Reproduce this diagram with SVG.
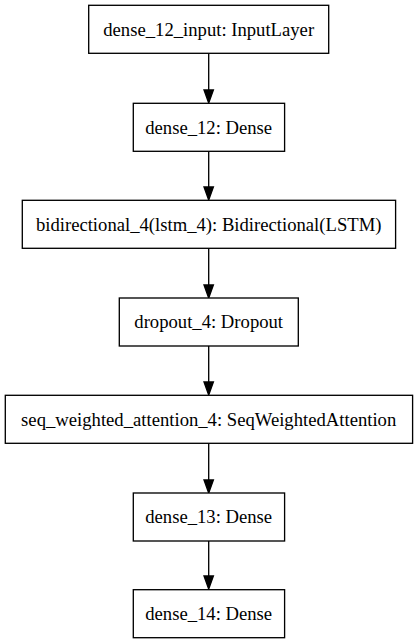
<svg xmlns="http://www.w3.org/2000/svg" width="417" height="644" viewBox="0 0 417 644">
<style>
.n rect{fill:#fff;stroke:#000;stroke-width:1.33}
.n text{font-family:'Liberation Serif', Tinos, 'Times New Roman', Times, 'DejaVu Serif', serif;font-size:18.67px;text-anchor:middle;fill:#000}
.e line{stroke:#000;stroke-width:1.33}
.e polygon{fill:#000;stroke:#000;stroke-width:1.33}
</style>
<rect width="417" height="644" fill="#fff"/>
<g class="e" id="edges">
<line x1="208.7" y1="53.5" x2="208.7" y2="90"/><polygon points="204,90 213.4,90 208.7,103"/>
<line x1="208.7" y1="151.5" x2="208.7" y2="187"/><polygon points="204,187 213.4,187 208.7,200"/>
<line x1="208.7" y1="248.5" x2="208.7" y2="285"/><polygon points="204,285 213.4,285 208.7,298"/>
<line x1="208.7" y1="346" x2="208.7" y2="382"/><polygon points="204,382 213.4,382 208.7,395"/>
<line x1="208.7" y1="443" x2="208.7" y2="480"/><polygon points="204,480 213.4,480 208.7,493"/>
<line x1="208.7" y1="541" x2="208.7" y2="576"/><polygon points="204,576 213.4,576 208.7,589"/>
</g>
<g class="n" id="dense_12_input"><rect x="88.7" y="5.3" width="240" height="48"/><text x="208.7" y="35.7" font-family="Liberation Serif, serif">dense_12_input: InputLayer</text></g>
<g class="n" id="dense_12"><rect x="133.3" y="103.3" width="151.3" height="48"/><text x="208.7" y="133.7">dense_12: Dense</text></g>
<g class="n" id="bidirectional_4"><rect x="22.3" y="200.3" width="373.3" height="48"/><text x="208.7" y="230.7">bidirectional_4(lstm_4): Bidirectional(LSTM)</text></g>
<g class="n" id="dropout_4"><rect x="119.3" y="298" width="179" height="48"/><text x="208.7" y="328.4">dropout_4: Dropout</text></g>
<g class="n" id="seq_weighted_attention_4"><rect x="5.3" y="395.3" width="407.3" height="48"/><text x="208.7" y="425.7">seq_weighted_attention_4: SeqWeightedAttention</text></g>
<g class="n" id="dense_13"><rect x="133.3" y="493" width="151.3" height="48"/><text x="208.7" y="523.4">dense_13: Dense</text></g>
<g class="n" id="dense_14"><rect x="133.3" y="589.7" width="151.3" height="48"/><text x="208.7" y="620.1">dense_14: Dense</text></g>
</svg>
